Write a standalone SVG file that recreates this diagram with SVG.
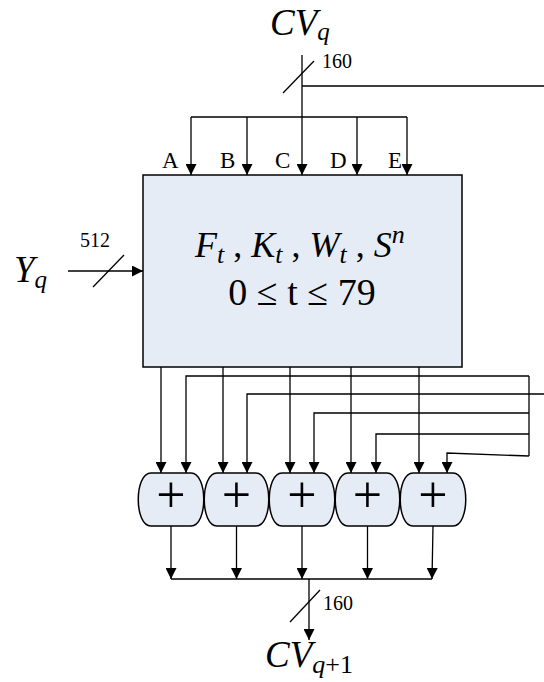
<svg xmlns="http://www.w3.org/2000/svg" width="544" height="682" viewBox="0 0 544 682">
<style>
.ln{fill:none;stroke:#000;stroke-width:1.3}
.arr{marker-end:url(#ah)}
.box{fill:#e6ecf6;stroke:#000;stroke-width:1.5}
.t{font-family:"Liberation Serif","Times New Roman",serif;fill:#000}
.it{font-style:italic}
.sb{font-style:italic;font-size:26px}
</style>
<defs>
<marker id="ah" viewBox="0 0 10 10" refX="10" refY="5" markerWidth="11" markerHeight="11" markerUnits="userSpaceOnUse" orient="auto">
<path d="M0,0 L10,5 L0,10 Z" fill="#000"/>
</marker>
</defs>
<rect width="544" height="682" fill="#fff"/>

<g id="cvq-label">
<text class="t it" x="270" y="35" font-size="37">CV<tspan font-size="25" dy="5">q</tspan></text>
</g>
<g id="yq-label">
<text class="t it" x="14" y="282" font-size="37">Y<tspan font-size="25" dy="6">q</tspan></text>
</g>
<g id="main-box">
<rect class="box" x="143" y="175" width="319" height="192"/>
<text class="t" x="195" y="257" font-size="36"><tspan class="it">F</tspan><tspan class="sb" dy="6">t</tspan><tspan dy="-6"> , </tspan><tspan class="it">K</tspan><tspan class="sb" dy="6">t</tspan><tspan dy="-6"> , </tspan><tspan class="it">W</tspan><tspan class="sb" dy="6">t</tspan><tspan dy="-6"> , </tspan><tspan class="it">S</tspan><tspan class="sb" dy="-14">n</tspan></text>
<text class="t" x="302" y="305" font-size="38" text-anchor="middle">0 ≤ t ≤ 79</text>
</g>
<g id="inputs-labels" class="t" font-size="23">
<text x="162" y="168">A</text>
<text x="220" y="168">B</text>
<text x="275" y="168">C</text>
<text x="330" y="168">D</text>
<text x="388" y="168">E</text>
</g>
<g id="adder1"><path class="box" d="M151,473 H191 C208,473 208,526 191,526 H151 C134,526 134,473 151,473 Z"/><text class="t" x="171" y="512" font-size="52" text-anchor="middle">+</text></g>
<g id="adder2"><path class="box" d="M217,473 H256 C273,473 273,526 256,526 H217 C200,526 200,473 217,473 Z"/><text class="t" x="236.5" y="512" font-size="52" text-anchor="middle">+</text></g>
<g id="adder3"><path class="box" d="M282,473 H322 C339,473 339,526 322,526 H282 C265,526 265,473 282,473 Z"/><text class="t" x="302" y="512" font-size="52" text-anchor="middle">+</text></g>
<g id="adder4"><path class="box" d="M348,473 H387 C404,473 404,526 387,526 H348 C331,526 331,473 348,473 Z"/><text class="t" x="367.5" y="512" font-size="52" text-anchor="middle">+</text></g>
<g id="adder5"><path class="box" d="M413,473 H453 C470,473 470,526 453,526 H413 C396,526 396,473 413,473 Z"/><text class="t" x="433" y="512" font-size="52" text-anchor="middle">+</text></g>
<g id="cvq1-label">
<text class="t it" x="265" y="667" font-size="37">CV<tspan font-size="26" dy="6">q</tspan><tspan font-style="normal" font-size="26">+1</tspan></text>
</g>

<g id="connectors">
<line class="ln arr" x1="302" y1="55" x2="302" y2="175"/>
<line class="ln" x1="302" y1="86" x2="544" y2="86"/>
<line class="ln" x1="283" y1="93" x2="314" y2="61"/>
<text class="t" x="322" y="68" font-size="20">160</text>
<line class="ln" x1="191" y1="117" x2="407" y2="117"/>
<line class="ln arr" x1="191" y1="117" x2="191" y2="175"/>
<line class="ln arr" x1="247" y1="117" x2="247" y2="175"/>
<line class="ln arr" x1="357" y1="117" x2="357" y2="175"/>
<line class="ln arr" x1="407" y1="117" x2="407" y2="175"/>

<line class="ln arr" x1="68" y1="271" x2="143" y2="271"/>
<line class="ln" x1="93" y1="287" x2="124" y2="255"/>
<text class="t" x="80" y="247" font-size="20">512</text>

<line class="ln arr" x1="161" y1="367" x2="161" y2="473"/>
<line class="ln arr" x1="223" y1="367" x2="223" y2="473"/>
<line class="ln arr" x1="290" y1="367" x2="290" y2="473"/>
<line class="ln arr" x1="351" y1="367" x2="351" y2="473"/>
<line class="ln arr" x1="419" y1="367" x2="419" y2="473"/>

<path class="ln arr" d="M529,376 H186 V473"/>
<path class="ln arr" d="M544,394 H247 V473"/>
<path class="ln arr" d="M529,413 H314 V473"/>
<path class="ln arr" d="M529,434 H376 V473"/>
<path class="ln arr" d="M529,456 L447,453 V473"/>
<line class="ln" x1="529" y1="376" x2="529" y2="456"/>

<line class="ln arr" x1="171" y1="526" x2="171" y2="579"/>
<line class="ln arr" x1="236.5" y1="526" x2="236.5" y2="579"/>
<line class="ln arr" x1="302" y1="526" x2="302" y2="579"/>
<line class="ln arr" x1="367.5" y1="526" x2="367.5" y2="579"/>
<line class="ln arr" x1="433" y1="526" x2="432" y2="579"/>
<line class="ln" x1="171" y1="579" x2="432" y2="579"/>
<line class="ln arr" x1="309" y1="579" x2="309" y2="640"/>
<line class="ln" x1="290" y1="622" x2="320" y2="590"/>
<text class="t" x="323" y="610" font-size="20">160</text>
</g>
</svg>
